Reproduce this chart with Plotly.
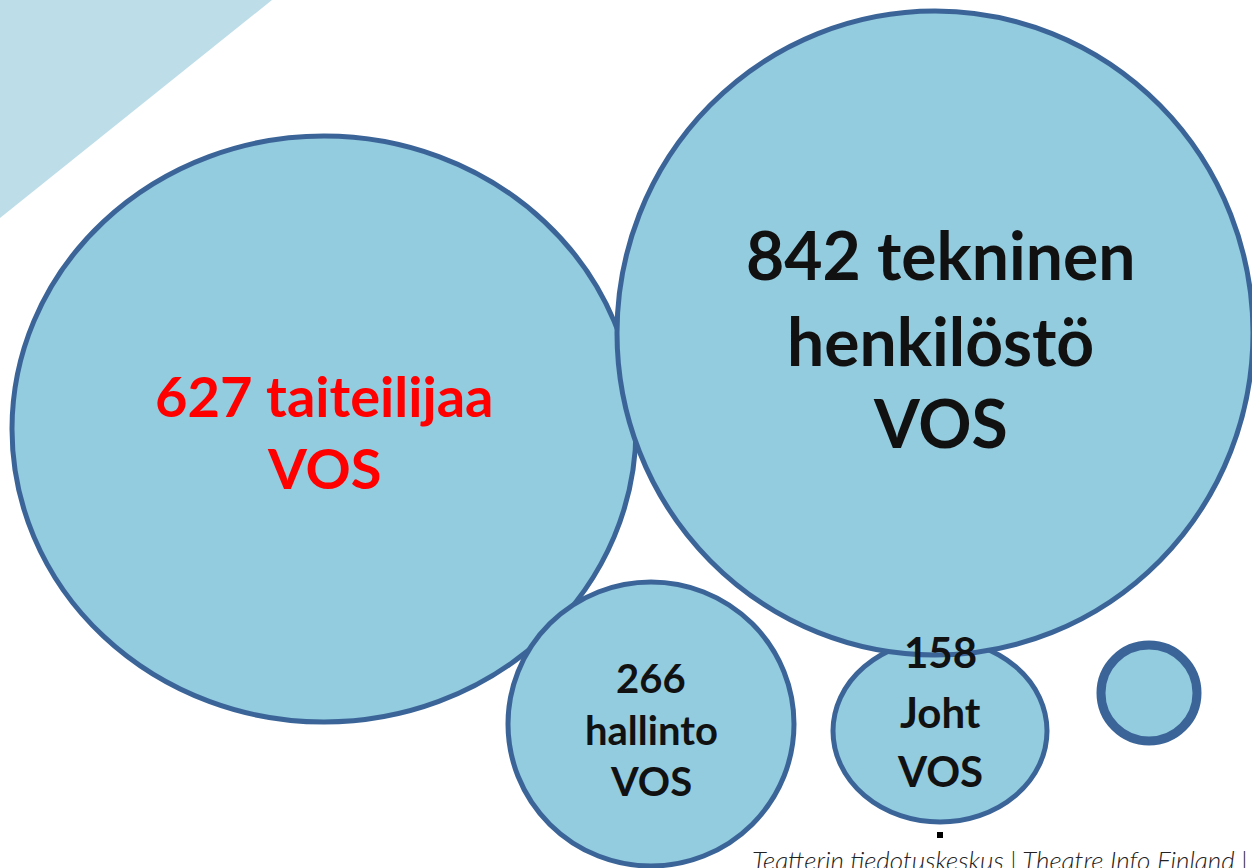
import plotly.graph_objects as go

# ---- data ----
values = [627, 842, 266, 158]
label_names = ["taiteilijaa", "tekninen henkilöstö", "hallinto", "Joht"]
label_lines = [
    ["627 taiteilijaa", "VOS"],
    ["842 tekninen", "henkilöstö", "VOS"],
    ["266", "hallinto", "VOS"],
    ["158", "Joht", "VOS"],
]
footer_text = "Teatterin tiedotuskeskus | Theatre Info Finland |"

# ---- layout (pixel-space geometry, kept apart from data) ----
W, H = 1252, 868
# bubble ellipses: cx, cy, rx, ry
bubbles = [
    (324, 429, 312, 293),   # 627
    (651, 724, 143, 142),   # 266
    (940, 731, 107, 91),    # 158
    (935, 333, 318, 322),   # 842
]
extra_bubble = (1149, 693, 52, 52)

label_line_y = [
    [395, 467],
    [254, 340, 422],
    [678, 730, 781],
    [652, 712, 771],
]
label_x = [324, 940, 651, 940]
label_size = [56, 66, 40, 42]
label_color = ["#ff0000", "#111111", "#111111", "#111111"]

FILL = "#93cbdf"
EDGE = "#3b6598"
TRI = "#bddde9"

fig = go.Figure()

shapes = []
shapes.append(dict(type="path", path="M 0 0 L 272 0 L 0 218 Z",
                   xref="x", yref="y", fillcolor=TRI, line=dict(width=0),
                   layer="below"))
for (cx, cy, rx, ry) in bubbles:
    shapes.append(dict(type="circle", xref="x", yref="y",
                       x0=cx - rx, x1=cx + rx, y0=cy - ry, y1=cy + ry,
                       fillcolor=FILL, line=dict(color=EDGE, width=5),
                       layer="below"))
cx, cy, rx, ry = extra_bubble
shapes.append(dict(type="circle", xref="x", yref="y",
                   x0=cx - rx + 4, x1=cx + rx - 4, y0=cy - ry + 4, y1=cy + ry - 4,
                   fillcolor=FILL, line=dict(color=EDGE, width=9),
                   layer="below"))

annotations = []
for i, lines in enumerate(label_lines):
    for j, txt in enumerate(lines):
        annotations.append(dict(
            x=label_x[i], y=label_line_y[i][j], xref="x", yref="y",
            text=txt, showarrow=False, xanchor="center", yanchor="middle",
            font=dict(family="Lato", size=label_size[i], color=label_color[i],
                      weight=700)))

annotations.append(dict(
    x=750, y=860, xref="x", yref="y", text=footer_text, showarrow=False,
    xanchor="left", yanchor="middle",
    font=dict(family="Lato", size=26, color="#222222", style="italic",
              weight=300)))

# small black tick mark below the Joht bubble
fig.add_trace(go.Scatter(x=[940], y=[835], mode="markers",
                         marker=dict(symbol="square", size=6, color="#000000"),
                         hoverinfo="skip", showlegend=False))

fig.update_layout(
    width=W, height=H,
    margin=dict(l=0, r=0, t=0, b=0),
    paper_bgcolor="white", plot_bgcolor="white",
    xaxis=dict(range=[0, W], visible=False, fixedrange=True),
    yaxis=dict(range=[H, 0], visible=False, fixedrange=True),
    shapes=shapes, annotations=annotations, showlegend=False,
)

fig.write_html("out.html", config={"displayModeBar": False},
               post_script="document.body.style.margin='0';document.body.style.overflow='hidden';")
